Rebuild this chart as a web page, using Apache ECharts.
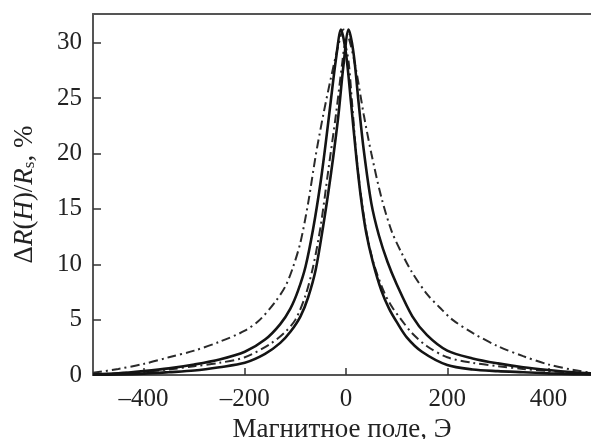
<!DOCTYPE html>
<html>
<head>
<meta charset="utf-8">
<script src="https://cdn.jsdelivr.net/npm/echarts@6/dist/echarts.min.js"></script>
<style>
  html, body { margin: 0; padding: 0; background: #fff; }
  #chart { width: 591px; height: 439px; }
</style>
</head>
<body>
<div id="chart"></div>
<script>
// field, Oe
const xTicks = [-400, -200, 0, 200, 400]
const yTicks = [0, 5, 10, 15, 20, 25, 30]

// wide dash-dot curve
const wideDashDot = [
  [-500, 0.2], [-450, 0.55], [-400, 1.0], [-350, 1.6], [-300, 2.2], [-250, 3.0], [-200, 4.0],
  [-170, 5.0], [-140, 6.6], [-120, 8.0], [-105, 9.7], [-90, 12], [-75, 15.5], [-60, 19.8],
  [-45, 23.5], [-30, 26.8], [-15, 29.8], [-5, 31.2], [5, 30.5], [20, 27.5], [35, 23.5],
  [50, 20], [70, 16], [90, 13], [110, 11], [130, 9.3], [160, 7.3], [185, 6.1], [210, 5.0],
  [250, 3.8], [300, 2.6], [350, 1.7], [400, 0.95], [450, 0.45], [484, 0.2]
]
// narrow dash-dot curve
const narrowDashDot = [
  [-500, 0.05], [-450, 0.15], [-400, 0.3], [-350, 0.5], [-300, 0.8], [-250, 1.1], [-200, 1.6],
  [-150, 2.8], [-120, 3.9], [-100, 5.0], [-80, 7.2], [-65, 9.8], [-50, 13.5], [-35, 18.5],
  [-20, 23.5], [-8, 28], [-2, 29.8], [5, 28.3], [12, 24.5], [20, 20], [30, 16], [42, 12.5],
  [55, 10], [75, 7.5], [90, 6.2], [109, 5], [130, 3.8], [160, 2.6], [200, 1.6], [250, 1.1],
  [300, 0.8], [350, 0.55], [400, 0.35], [450, 0.2], [484, 0.1]
]
// solid curve, peak shifted left
const solidLeft = [
  [-500, 0.05], [-450, 0.15], [-400, 0.35], [-350, 0.6], [-300, 0.95], [-250, 1.4], [-200, 2.1],
  [-160, 3.2], [-130, 4.6], [-110, 6.0], [-95, 7.6], [-80, 9.8], [-65, 13.2], [-50, 17.5],
  [-40, 21], [-30, 24.8], [-20, 28.5], [-10, 31.2], [0, 29], [10, 24.5], [20, 19.8], [30, 15.8],
  [40, 12.8], [53, 10.2], [70, 7.6], [85, 6], [100, 4.8], [120, 3.4], [150, 2.1], [200, 0.9],
  [250, 0.5], [300, 0.35], [350, 0.25], [400, 0.15], [450, 0.08], [484, 0.05]
]
// solid curve, peak shifted right
const solidRight = [
  [-500, 0.02], [-450, 0.05], [-400, 0.12], [-350, 0.25], [-300, 0.4], [-250, 0.7], [-200, 1.1],
  [-160, 1.9], [-130, 2.9], [-110, 3.9], [-90, 5.3], [-75, 7], [-60, 9.5], [-45, 13.5],
  [-35, 16.5], [-25, 19.8], [-15, 23.5], [-5, 28], [5, 31.2], [15, 29], [25, 24.5],
  [35, 20.3], [50, 15.5], [65, 12.6], [82, 10.2], [100, 8.2], [131, 5.3], [160, 3.6], [200, 2.2],
  [250, 1.5], [300, 1.05], [350, 0.7], [400, 0.45], [450, 0.25], [484, 0.15]
]

const FONT = '"Liberation Serif", "DejaVu Serif", serif'
const AXIS = '#555'

const ec = echarts.init(document.getElementById('chart'))

function line (data, dashed) {
  return {
    type: 'line',
    data: data,
    smooth: 0.3,
    showSymbol: false,
    silent: true,
    lineStyle: dashed
      ? { color: '#2a2a2a', width: 2, type: [9, 4, 2, 4] }
      : { color: '#141414', width: 2.6 }
  }
}

ec.setOption({
  animation: false,
  grid: { left: 93, top: 14, right: 0, bottom: 64, outerBoundsMode: 'none', containLabel: false },
  xAxis: [
    {
      type: 'value',
      min: -500,
      max: 484,
      name: 'Магнитное поле, Э',
      nameLocation: 'middle',
      nameGap: 33,
      nameTextStyle: { fontFamily: FONT, fontSize: 27, color: '#222' },
      axisLine: { show: true, onZero: false, lineStyle: { color: AXIS, width: 2 } },
      axisTick: { show: true, inside: true, length: 7, customValues: xTicks, lineStyle: { color: '#333', width: 1.5 } },
      axisLabel: {
        customValues: xTicks,
        margin: 12,
        fontFamily: FONT,
        fontSize: 25,
        color: '#222',
        formatter: v => (v < 0 ? '\u2013' + Math.abs(v) : String(v))
      },
      splitLine: { show: false }
    },
    {
      type: 'value',
      position: 'top',
      min: -500,
      max: 484,
      axisLine: { show: true, onZero: false, lineStyle: { color: AXIS, width: 2 } },
      axisTick: { show: false },
      axisLabel: { show: false },
      splitLine: { show: false }
    }
  ],
  yAxis: {
    type: 'value',
    min: 0,
    max: 32.6,
    name: 'Δ{i|R}({i|H})/{i|R}{sub|s}, %',
    nameLocation: 'middle',
    nameGap: 55,
    nameRotate: 90,
    nameTextStyle: {
      fontFamily: FONT,
      fontSize: 27,
      color: '#222',
      rich: {
        i: { fontFamily: FONT, fontSize: 27, fontStyle: 'italic', color: '#222' },
        sub: { fontFamily: FONT, fontSize: 17, color: '#222', padding: [10, 0, 0, 0] }
      }
    },
    axisLine: { show: true, onZero: false, lineStyle: { color: AXIS, width: 2 } },
    axisTick: { show: true, inside: true, length: 8, customValues: yTicks, lineStyle: { color: '#333', width: 1.5 } },
    axisLabel: { customValues: yTicks, margin: 11, fontFamily: FONT, fontSize: 25, color: '#222' },
    splitLine: { show: false }
  },
  series: [
    line(wideDashDot, true),
    line(narrowDashDot, true),
    line(solidLeft, false),
    line(solidRight, false)
  ]
})
</script>
</body>
</html>
